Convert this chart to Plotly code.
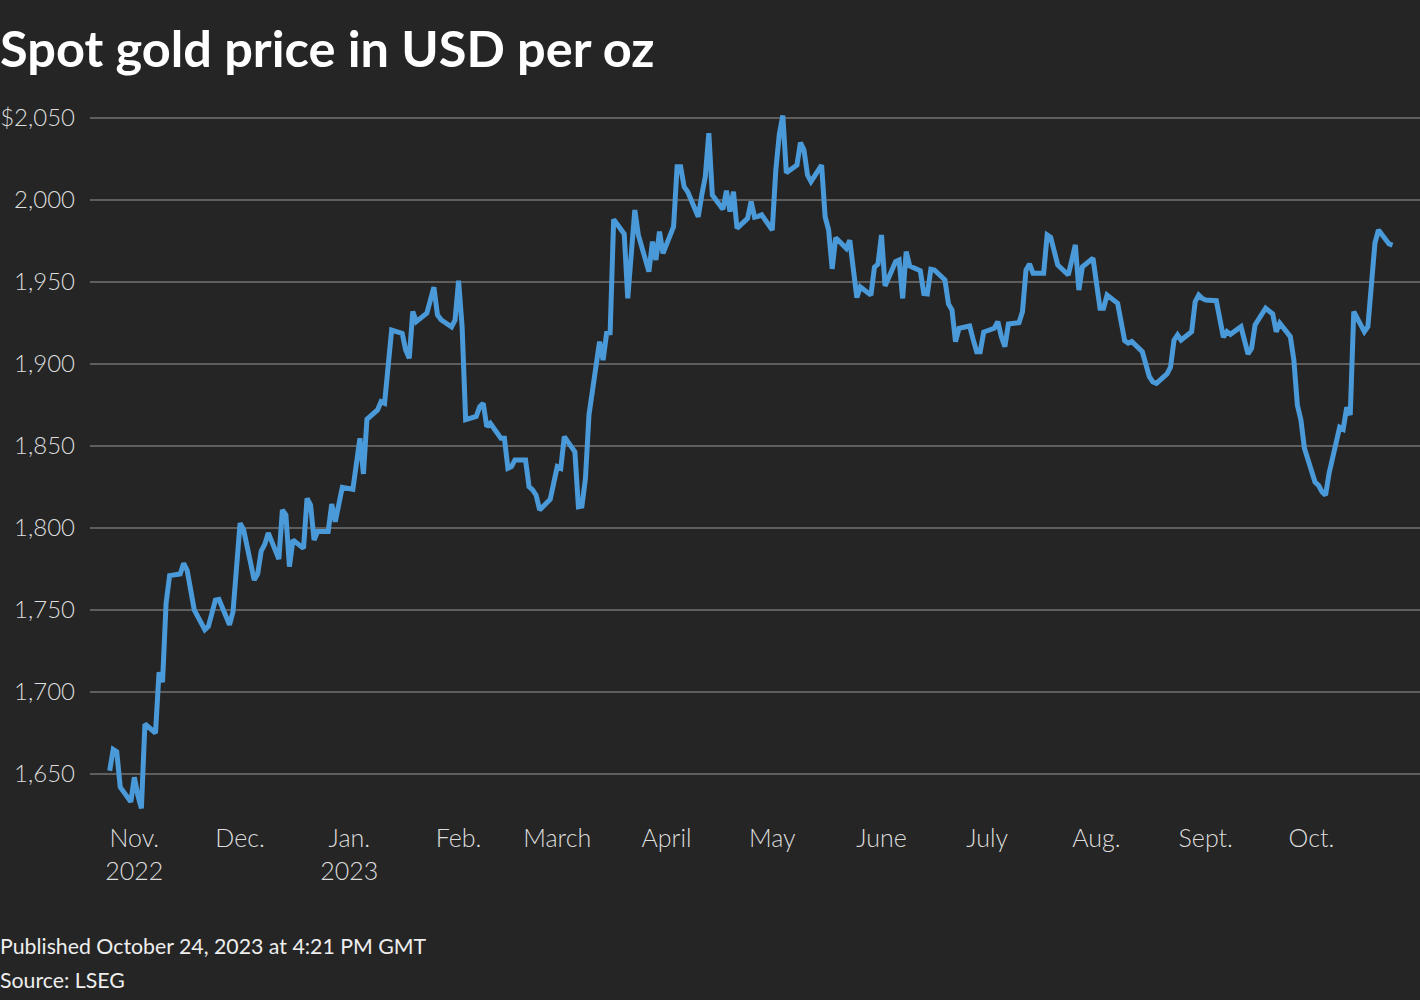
import plotly.graph_objects as go

dates = [
    "2022-10-25", "2022-10-26", "2022-10-27", "2022-10-28", "2022-10-31",
    "2022-11-01", "2022-11-02", "2022-11-03", "2022-11-04", "2022-11-07",
    "2022-11-08", "2022-11-09", "2022-11-10", "2022-11-11", "2022-11-14",
    "2022-11-15", "2022-11-16", "2022-11-17", "2022-11-18", "2022-11-21",
    "2022-11-22", "2022-11-23", "2022-11-24", "2022-11-25", "2022-11-28",
    "2022-11-29", "2022-11-30", "2022-12-01", "2022-12-02", "2022-12-05",
    "2022-12-06", "2022-12-07", "2022-12-08", "2022-12-09", "2022-12-12",
    "2022-12-13", "2022-12-14", "2022-12-15", "2022-12-16", "2022-12-19",
    "2022-12-20", "2022-12-21", "2022-12-22", "2022-12-23", "2022-12-26",
    "2022-12-27", "2022-12-28", "2022-12-29", "2022-12-30",
    "2023-01-02", "2023-01-03", "2023-01-04", "2023-01-05", "2023-01-06",
    "2023-01-09", "2023-01-10", "2023-01-11", "2023-01-12", "2023-01-13",
    "2023-01-16", "2023-01-17", "2023-01-18", "2023-01-19", "2023-01-20",
    "2023-01-23", "2023-01-24", "2023-01-25", "2023-01-26", "2023-01-27",
    "2023-01-30", "2023-01-31", "2023-02-01", "2023-02-02", "2023-02-03",
    "2023-02-06", "2023-02-07", "2023-02-08", "2023-02-09", "2023-02-10",
    "2023-02-13", "2023-02-14", "2023-02-15", "2023-02-16", "2023-02-17",
    "2023-02-20", "2023-02-21", "2023-02-22", "2023-02-23", "2023-02-24",
    "2023-02-27", "2023-02-28", "2023-03-01", "2023-03-02", "2023-03-03",
    "2023-03-06", "2023-03-07", "2023-03-08", "2023-03-09", "2023-03-10",
    "2023-03-13", "2023-03-14", "2023-03-15", "2023-03-16", "2023-03-17",
    "2023-03-20", "2023-03-21", "2023-03-22", "2023-03-23", "2023-03-24",
    "2023-03-27", "2023-03-28", "2023-03-29", "2023-03-30", "2023-03-31",
    "2023-04-03", "2023-04-04", "2023-04-05", "2023-04-06", "2023-04-07",
    "2023-04-10", "2023-04-11", "2023-04-12", "2023-04-13", "2023-04-14",
    "2023-04-17", "2023-04-18", "2023-04-19", "2023-04-20", "2023-04-21",
    "2023-04-24", "2023-04-25", "2023-04-26", "2023-04-27", "2023-04-28",
    "2023-05-01", "2023-05-02", "2023-05-03", "2023-05-04", "2023-05-05",
    "2023-05-08", "2023-05-09", "2023-05-10", "2023-05-11", "2023-05-12",
    "2023-05-15", "2023-05-16", "2023-05-17", "2023-05-18", "2023-05-19",
    "2023-05-22", "2023-05-23", "2023-05-24", "2023-05-25", "2023-05-26",
    "2023-05-29", "2023-05-30", "2023-05-31", "2023-06-01", "2023-06-02",
    "2023-06-05", "2023-06-06", "2023-06-07", "2023-06-08", "2023-06-09",
    "2023-06-12", "2023-06-13", "2023-06-14", "2023-06-15", "2023-06-16",
    "2023-06-19", "2023-06-20", "2023-06-21", "2023-06-22", "2023-06-23",
    "2023-06-26", "2023-06-27", "2023-06-28", "2023-06-29", "2023-06-30",
    "2023-07-03", "2023-07-04", "2023-07-05", "2023-07-06", "2023-07-07",
    "2023-07-10", "2023-07-11", "2023-07-12", "2023-07-13", "2023-07-14",
    "2023-07-17", "2023-07-18", "2023-07-19", "2023-07-20", "2023-07-21",
    "2023-07-24", "2023-07-25", "2023-07-26", "2023-07-27", "2023-07-28",
    "2023-07-31", "2023-08-01", "2023-08-02", "2023-08-03", "2023-08-04",
    "2023-08-07", "2023-08-08", "2023-08-09", "2023-08-10", "2023-08-11",
    "2023-08-14", "2023-08-15", "2023-08-16", "2023-08-17", "2023-08-18",
    "2023-08-21", "2023-08-22", "2023-08-23", "2023-08-24", "2023-08-25",
    "2023-08-28", "2023-08-29", "2023-08-30", "2023-08-31", "2023-09-01",
    "2023-09-04", "2023-09-05", "2023-09-06", "2023-09-07", "2023-09-08",
    "2023-09-11", "2023-09-12", "2023-09-13", "2023-09-14", "2023-09-15",
    "2023-09-18", "2023-09-19", "2023-09-20", "2023-09-21", "2023-09-22",
    "2023-09-25", "2023-09-26", "2023-09-27", "2023-09-28", "2023-09-29",
    "2023-10-02", "2023-10-03", "2023-10-04", "2023-10-05", "2023-10-06",
    "2023-10-09", "2023-10-10", "2023-10-11", "2023-10-12", "2023-10-13",
    "2023-10-16", "2023-10-17", "2023-10-18", "2023-10-19", "2023-10-20",
    "2023-10-23", "2023-10-24",
]

prices = [
    1652, 1665, 1663.6, 1642, 1633,
    1648, 1637, 1629, 1680.5, 1675,
    1712, 1706, 1754, 1771, 1772,
    1778.5, 1774, 1762, 1750, 1738,
    1740, 1748, 1756, 1756.5, 1741,
    1749, 1775, 1803, 1799, 1768.3,
    1772, 1786, 1790, 1797, 1781,
    1811, 1808, 1776.4, 1792.7, 1787.6,
    1818, 1814, 1792.7, 1797.8, 1797.8,
    1814.6, 1803.8, 1815, 1824.8,
    1823.6, 1839, 1854.7, 1833, 1866.3,
    1872, 1877, 1876, 1898, 1920.7,
    1918.7, 1908.5, 1903.5, 1932, 1925.8,
    1931, 1939, 1946.8, 1930, 1927,
    1922.7, 1926.8, 1950.8, 1922.7, 1866,
    1868, 1874, 1876, 1861.8, 1863.8,
    1854.7, 1854.7, 1836.4, 1837.4, 1841.5,
    1841.5, 1825.2, 1823.2, 1820, 1811,
    1817.5, 1827, 1837.4, 1836.4, 1855.7,
    1846.5, 1813, 1813.4, 1830.3, 1869,
    1913.6, 1902.4, 1918.7, 1919, 1988.2,
    1979.3, 1940, 1967, 1993.9, 1978.7,
    1956.3, 1974.6, 1963.4, 1980.7, 1967.5,
    1983.7, 2020.3, 2020.3, 2008, 2005,
    1989.8, 2003, 2014.2, 2040.7, 2003,
    1994.3, 2005.7, 1992.9, 2005.1, 1982.7,
    1988.8, 1999, 1989.5, 1990, 1990.9,
    1981.7, 2018, 2040, 2051.5, 2016.6,
    2021.3, 2035, 2030.5, 2015.2, 2011.2,
    2021.3, 1989.8, 1981.7, 1958, 1977,
    1970.5, 1975.4, 1958, 1940.5, 1947,
    1942, 1959, 1961, 1978.7, 1947.6,
    1962.4, 1963.4, 1940, 1968.5, 1959.8,
    1956.9, 1943, 1942.7, 1957.8, 1957.3,
    1951.2, 1936.6, 1932.9, 1913.6, 1921.8,
    1923.2, 1915, 1907.5, 1907.5, 1919.5,
    1921.8, 1925.8, 1916.7, 1910.6, 1924.4,
    1925.2, 1931.9, 1957.3, 1961, 1955.3,
    1955.3, 1978.7, 1977.3, 1970, 1960.4,
    1954.3, 1963, 1972.6, 1945.1, 1959.3,
    1964.5, 1947.1, 1934, 1934, 1942,
    1937, 1926, 1914.2, 1912.7, 1913.7,
    1907.5, 1900, 1892.3, 1889, 1888.2,
    1894, 1898, 1914.6, 1917.7, 1914.6,
    1919.7, 1938, 1942, 1940, 1939,
    1938.6, 1928, 1916.3, 1919.7, 1918.1,
    1922.7, 1913, 1906.1, 1909.6, 1923.8,
    1934, 1932, 1930.5, 1919.7, 1924.9,
    1916.7, 1902.4, 1875, 1865.9, 1848.6,
    1828, 1826, 1822, 1820, 1833.4,
    1861.4, 1860.2, 1873.6, 1868.9, 1931.9,
    1919.7, 1922.8, 1946, 1973.6, 1981.7,
    1973.2, 1972.5,
]

month_ticks = ["2022-11-01", "2022-12-01", "2023-01-01", "2023-02-01", "2023-03-01",
               "2023-04-01", "2023-05-01", "2023-06-01", "2023-07-01", "2023-08-01",
               "2023-09-01", "2023-10-01"]
month_labels = ["Nov.<br>2022", "Dec.", "Jan.<br>2023", "Feb.", "March", "April",
                "May", "June", "July", "Aug.", "Sept.", "Oct."]

y_ticks = [1650, 1700, 1750, 1800, 1850, 1900, 1950, 2000, 2050]
y_labels = ["1,650", "1,700", "1,750", "1,800", "1,850", "1,900", "1,950", "2,000", "$2,050"]

title_text = "Spot gold price in USD per oz"
footer_lines = ["Published October 24, 2023 at 4:21 PM GMT", "Source: LSEG"]

BG = "#252525"
FONT = "Lato"

fig = go.Figure()
fig.add_trace(go.Scatter(
    x=dates, y=prices, mode="lines",
    line=dict(color="#4a9ad9", width=5),
    hoverinfo="skip",
))

L, R, T, B = 86, 0, 110, 177
fig.update_layout(
    width=1420, height=1000,
    paper_bgcolor=BG, plot_bgcolor=BG,
    margin=dict(l=L, r=R, t=T, b=B),
    showlegend=False,
    font=dict(family=FONT, color="#dddddd"),
    title=dict(
        text="<b>" + title_text + "</b>",
        font=dict(family=FONT, size=50.5, color="#ffffff"),
        x=0.0, xref="container", xanchor="left",
        y=0.951, yref="container", yanchor="middle",
    ),
    xaxis=dict(
        type="date",
        range=["2022-10-19 10:00", "2023-10-31 19:00"],
        tickmode="array", tickvals=month_ticks, ticktext=month_labels,
        showgrid=False, zeroline=False, showline=False, ticks="",
        tickfont=dict(family=FONT, size=25, color="#dddddd", weight=300),
        ticklabelstandoff=-2,
    ),
    yaxis=dict(
        range=[1620.12, 2054.88],
        tickmode="array", tickvals=y_ticks, ticktext=y_labels,
        showgrid=True, gridcolor="#5e5e5e", gridwidth=1.6,
        zeroline=False, showline=False, ticks="",
        tickfont=dict(family=FONT, size=24, color="#dddddd", weight=300),
        ticklabelstandoff=14,
    ),
)

plot_h = 1000 - T - B
plot_w = 1420 - L - R
for i, txt in enumerate(footer_lines):
    ypix = 946 + 34 * i
    fig.add_annotation(
        text=txt, xref="paper", yref="paper",
        x=-(L + 6) / plot_w, y=(1000 - B - ypix) / plot_h,
        xanchor="left", yanchor="middle", showarrow=False,
        font=dict(family=FONT, size=21.3, color="#eeeeee"),
    )

fig.write_html(
    "out.html",
    config={"displayModeBar": False},
    post_script="document.body.style.margin='0';document.body.style.background='" + BG + "';",
)
